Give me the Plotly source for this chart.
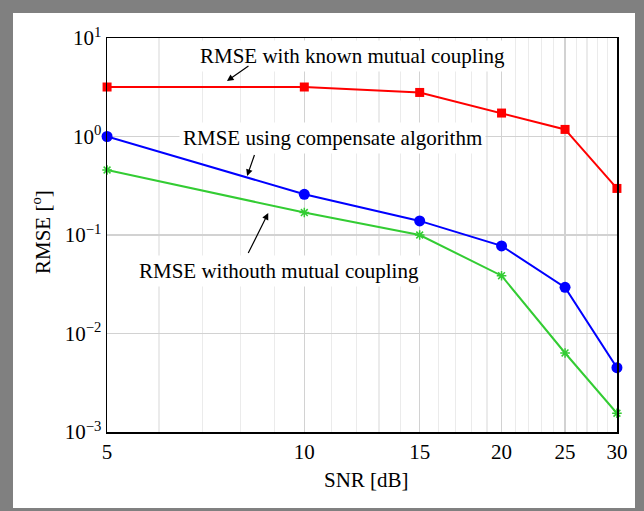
import math
import plotly.graph_objects as go

# ---- data ----
snr = [5, 10, 15, 20, 25, 30]
rmse_known = [3.18, 3.18, 2.80, 1.73, 1.18, 0.297]
rmse_comp = [1.0, 0.259, 0.139, 0.0775, 0.0294, 0.0045]
rmse_without = [0.457, 0.169, 0.100, 0.0386, 0.00634, 0.00155]

x_tick_vals = [5, 10, 15, 20, 25, 30]
x_tick_text = ["5", "10", "15", "20", "25", "30"]
x_minor_vals = [v for v in range(6, 30) if v not in x_tick_vals]
y_tick_vals = [1e-3, 1e-2, 1e-1, 1e0, 1e1]
y_tick_text = ["10<sup>−3</sup>", "10<sup>−2</sup>", "10<sup>−1</sup>", "10<sup>0</sup>", "10<sup>1</sup>"]

FONT = "Liberation Serif, Times New Roman, serif"
FS = 21
W, H = 644, 511
L, R, T, B = 107, 27, 38, 79

fig = go.Figure()
fig.add_trace(go.Scatter(x=snr, y=rmse_known, mode="lines+markers",
                         line=dict(color="#ff0000", width=2),
                         marker=dict(symbol="square", size=9, color="#ff0000"),
                         cliponaxis=False, showlegend=False, hoverinfo="skip"))
fig.add_trace(go.Scatter(x=snr, y=rmse_comp, mode="lines+markers",
                         line=dict(color="#0000ff", width=2),
                         marker=dict(symbol="circle", size=11, color="#0000ff"),
                         cliponaxis=False, showlegend=False, hoverinfo="skip"))
fig.add_trace(go.Scatter(x=snr, y=rmse_without, mode="lines+markers",
                         line=dict(color="#33cc33", width=2),
                         marker=dict(symbol="asterisk-open", size=8, color="#33cc33",
                                     line=dict(color="#33cc33", width=1.5)),
                         cliponaxis=False, showlegend=False, hoverinfo="skip"))

pw, ph = W - L - R, H - T - B
def px_to_paper(px, py):
    return (px - L) / pw, (H - B - py) / ph

# gray frame / white card
x0, y1 = px_to_paper(13, 13)
x1, y0 = px_to_paper(635, 508)
fig.add_shape(type="rect", xref="paper", yref="paper", x0=x0, x1=x1, y0=y0, y1=y1,
              fillcolor="white", line=dict(width=0), layer="below")

lg = math.log10
# text labels (data coords)
texts = [
    ("RMSE with known mutual coupling", 11.84, 6.56),
    ("RMSE using compensate algorithm", 11.06, 0.966),
    ("RMSE withouth mutual coupling", 9.15, 0.0432),
]
for t, xv, yv in texts:
    fig.add_annotation(x=lg(xv), y=lg(yv), xref="x", yref="y", text=t, showarrow=False,
                       xanchor="center", yanchor="middle",
                       font=dict(family=FONT, size=FS, color="black"),
                       bgcolor="white", borderpad=3)

# arrows: head (data), tail offset (px)
arrows = [
    (7.62, 3.66, 23, -16),
    (8.18, 0.397, 8, -23),
    (8.81, 0.167, -21, 42),
]
for xv, yv, ax, ay in arrows:
    fig.add_annotation(x=lg(xv), y=lg(yv), xref="x", yref="y", text=" ", showarrow=True,
                       ax=ax, ay=ay, arrowhead=2, arrowsize=1.1, arrowwidth=1.2,
                       arrowcolor="black", font=dict(size=1))

# axis titles
tx, ty = px_to_paper(366, 480)
fig.add_annotation(x=tx, y=ty, xref="paper", yref="paper", text="SNR [dB]", showarrow=False,
                   xanchor="center", yanchor="middle",
                   font=dict(family=FONT, size=FS, color="black"))
tx, ty = px_to_paper(41, 232)
fig.add_annotation(x=tx, y=ty, xref="paper", yref="paper", text="RMSE [<sup>o</sup>]",
                   showarrow=False, textangle=-90, xanchor="center", yanchor="middle",
                   font=dict(family=FONT, size=FS, color="black"))

fig.update_xaxes(type="log", range=[lg(5) - 1e-4, lg(30) + 1e-4],
                 tickmode="array", tickvals=x_tick_vals, ticktext=x_tick_text,
                 showgrid=True, gridcolor="#d2d2d2", gridwidth=1.2,
                 minor=dict(tickmode="array", tickvals=x_minor_vals, showgrid=True,
                            gridcolor="#ebebeb", gridwidth=1.1, ticks=""),
                 showline=True, linecolor="black", linewidth=1.5, mirror=True,
                 ticks="", zeroline=False,
                 tickfont=dict(family=FONT, size=FS, color="black"))
fig.update_yaxes(type="log", range=[-3, 1],
                 tickmode="array", tickvals=y_tick_vals, ticktext=y_tick_text,
                 showgrid=True, gridcolor="#d2d2d2", gridwidth=1.1,
                 showline=True, linecolor="black", linewidth=1.5, mirror=True,
                 ticks="", zeroline=False,
                 tickfont=dict(family=FONT, size=FS, color="black"))

fig.update_layout(width=W, height=H, margin=dict(l=L, r=R, t=T, b=B),
                  paper_bgcolor="#808080", plot_bgcolor="white",
                  font=dict(family=FONT, color="black"), hovermode=False)

fig.write_html("out.html", config={"displayModeBar": False, "staticPlot": True},
               post_script="document.body.style.margin='0px';")
